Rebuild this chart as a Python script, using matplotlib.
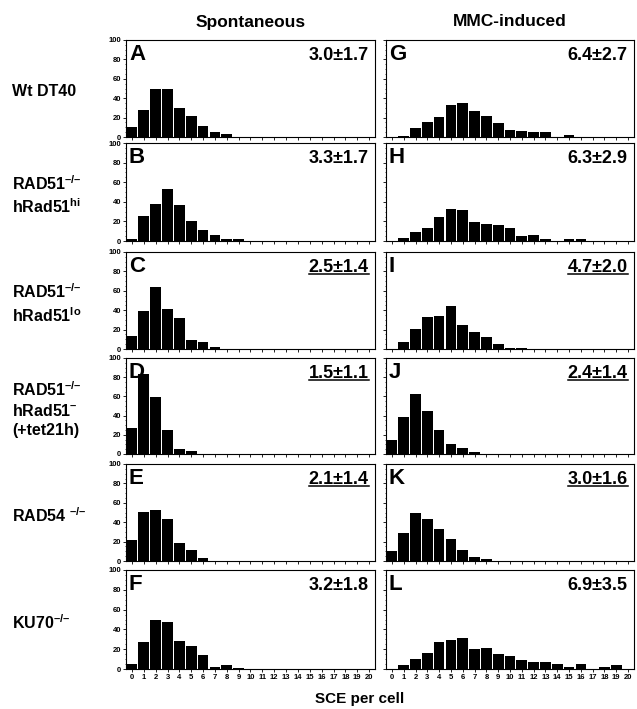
import numpy as np
import matplotlib
matplotlib.use('Agg')
import matplotlib.pyplot as plt
from matplotlib.lines import Line2D
from matplotlib.ticker import MultipleLocator

plt.rcParams['font.family'] = ['Liberation Sans', 'DejaVu Sans']
plt.rcParams['font.weight'] = 'bold'
plt.rcParams['mathtext.fontset'] = 'custom'
plt.rcParams['mathtext.rm'] = 'Liberation Sans:bold'
plt.rcParams['mathtext.it'] = 'Liberation Sans:bold'
plt.rcParams['mathtext.bf'] = 'Liberation Sans:bold'

# SCE per cell bins
sce = list(range(21))

# spontaneous (% of cells)
spont_A = [10, 28, 49, 50, 30, 22, 11, 5, 3, 0, 0, 0, 0, 0, 0, 0, 0, 0, 0, 0, 0]
spont_B = [2, 26, 38, 53, 37, 20, 11, 6, 2, 2, 0, 0, 0, 0, 0, 0, 0, 0, 0, 0, 0]
spont_C = [13, 39, 64, 41, 32, 9, 7, 2, 0, 0, 0, 0, 0, 0, 0, 0, 0, 0, 0, 0, 0]
spont_D = [27, 83, 59, 25, 5, 3, 0, 0, 0, 0, 0, 0, 0, 0, 0, 0, 0, 0, 0, 0, 0]
spont_E = [22, 51, 53, 43, 19, 11, 3, 0, 0, 0, 0, 0, 0, 0, 0, 0, 0, 0, 0, 0, 0]
spont_F = [5, 27, 50, 47, 28, 23, 14, 2, 4, 1, 0, 0, 0, 0, 0, 0, 0, 0, 0, 0, 0]

# MMC-induced
mmc_G = [0, 1.5, 9, 15, 21, 33, 35, 27, 22, 14, 7.5, 6, 5, 5, 0.5, 2.5, 0, 0, 0, 0, 0]
mmc_H = [0, 3, 9, 13.5, 25, 33, 32, 19, 17, 16.5, 13, 5, 6.5, 2.5, 0, 2.5, 2, 0, 0, 0, 0]
mmc_I = [0, 7, 21, 33, 34.5, 44.5, 25, 18, 12, 5, 1.5, 1, 0, 0, 0, 0, 0, 0, 0, 0, 0]
mmc_J = [15, 39, 63, 45, 25, 10, 6, 2, 0, 0, 0, 0, 0, 0, 0, 0, 0, 0, 0, 0, 0]
mmc_K = [10, 29, 50, 43, 33, 23, 11, 4, 2, 0, 0, 0, 0, 0, 0, 0, 0, 0, 0, 0, 0]
mmc_L = [0, 4, 10, 16, 27, 29.5, 31.5, 20, 21, 15, 13, 9, 7, 7, 5, 2.5, 5, 0.5, 2, 4, 0]

spont = [spont_A, spont_B, spont_C, spont_D, spont_E, spont_F]
mmc = [mmc_G, mmc_H, mmc_I, mmc_J, mmc_K, mmc_L]
letters_left = ['A', 'B', 'C', 'D', 'E', 'F']
letters_right = ['G', 'H', 'I', 'J', 'K', 'L']
stats_left = ['3.0±1.7', '3.3±1.7', '2.5±1.4', '1.5±1.1', '2.1±1.4', '3.2±1.8']
stats_right = ['6.4±2.7', '6.3±2.9', '4.7±2.0', '2.4±1.4', '3.0±1.6', '6.9±3.5']
underlined = [False, False, True, True, True, False]
row_labels = ['Wt DT40',
              'RAD51$^{\u2013/\u2013}$\nhRad51$^{hi}$',
              'RAD51$^{\u2013/\u2013}$\nhRad51$^{lo}$',
              'RAD51$^{\u2013/\u2013}$\nhRad51$^{\u2013}$\n(+tet21h)',
              'RAD54 $^{\u2013/\u2013}$',
              'KU70$^{\u2013/\u2013}$']
col_titles = ['Spontaneous', 'MMC-induced']

W, H = 637, 709
fig = plt.figure(figsize=(W / 100, H / 100), dpi=100)

rows_top = [40, 143, 252, 358, 464, 570]
rows_bot = [137, 241, 349, 454, 561, 669]
cols = [(126, 375), (386, 634)]


def px_axes(x0, y0, x1, y1):
    return fig.add_axes([x0 / W, 1 - y1 / H, (x1 - x0) / W, (y1 - y0) / H])


stat_texts = []
for r in range(6):
    for c in range(2):
        x0, x1 = cols[c]
        ax = px_axes(x0, rows_top[r], x1, rows_bot[r])
        vals = spont[r] if c == 0 else mmc[r]
        ax.bar(sce, vals, width=0.9, color='black', edgecolor='none')
        ax.set_xlim(-0.5, 20.5)
        ax.set_ylim(0, 100)
        ax.xaxis.set_major_locator(MultipleLocator(1))
        ax.yaxis.set_major_locator(MultipleLocator(20))
        ax.yaxis.set_minor_locator(MultipleLocator(5))
        ax.tick_params(axis='both', which='major', direction='out', length=2,
                       width=0.6, labelsize=5.5, pad=1.5)
        ax.tick_params(axis='y', which='minor', direction='out', length=1, width=0.5)
        for sp in ax.spines.values():
            sp.set_linewidth(0.8)
        if c == 1:
            ax.set_yticklabels([])
        if r < 5:
            ax.set_xticklabels([])
        else:
            ax.set_xticks(sce)
            ax.set_xticklabels([str(s) for s in sce])
        for lab in ax.get_xticklabels() + ax.get_yticklabels():
            lab.set_fontweight('bold')
        letter = letters_left[r] if c == 0 else letters_right[r]
        ax.text(0.012, 0.955, letter, transform=ax.transAxes, ha='left', va='top',
                fontsize=16, fontweight='bold')
        st = stats_left[r] if c == 0 else stats_right[r]
        t = ax.text(0.975, 0.93, st, transform=ax.transAxes, ha='right', va='top',
                    fontsize=13, fontweight='bold')
        if underlined[r]:
            stat_texts.append(t)

# row labels
for r in range(6):
    yc = (rows_top[r] + rows_bot[r]) / 2 + 3
    fig.text(12 / W, 1 - yc / H, row_labels[r], ha='left', va='center',
             fontsize=11.5, fontweight='bold', linespacing=1.3)

# column titles
for c in range(2):
    xc = (cols[c][0] + cols[c][1]) / 2
    fig.text(xc / W, 1 - 22 / H, col_titles[c], ha='center', va='center',
             fontsize=12.5, fontweight='bold')

fig.text(360 / W, 1 - 699 / H, 'SCE per cell', ha='center', va='center',
         fontsize=11, fontweight='bold')

# underline the marked statistics
fig.canvas.draw()
renderer = fig.canvas.get_renderer()
for t in stat_texts:
    bb = t.get_window_extent(renderer)
    yline = bb.y0 + 1.5
    fig.add_artist(Line2D([bb.x0 / W, bb.x1 / W], [yline / H, yline / H],
                          color='black', linewidth=1.1, transform=fig.transFigure))

fig.savefig('out.png', dpi=100, facecolor='white')
